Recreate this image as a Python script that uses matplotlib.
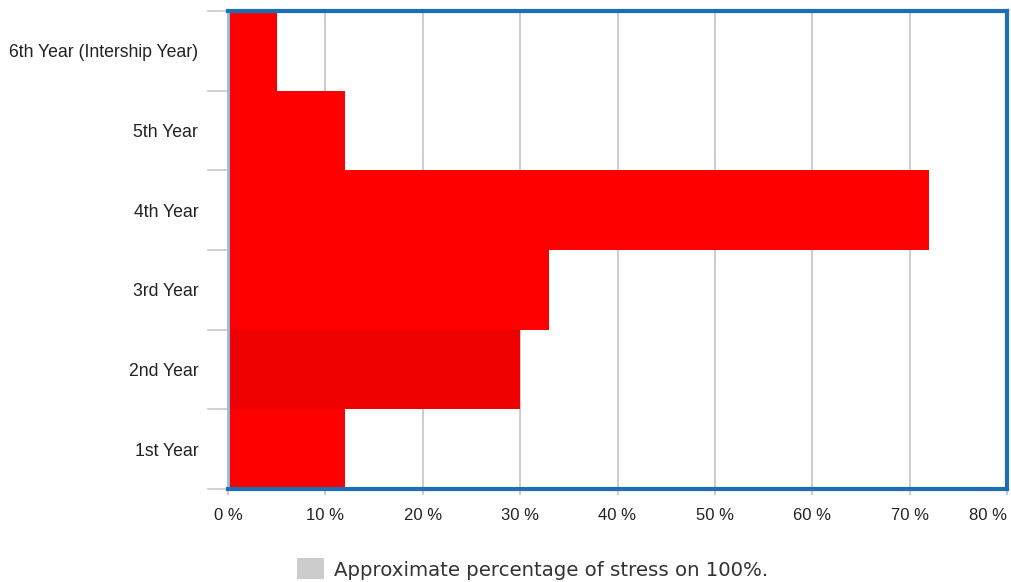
import matplotlib
matplotlib.use("Agg")
from matplotlib import pyplot as plt
from matplotlib.patches import Rectangle

years = ["1st Year", "2nd Year", "3rd Year", "4th Year", "5th Year",
         "6th Year (Intership Year)"]
stress = [12, 30, 33, 72, 12, 5]
bar_colors = ["#ff0000", "#ee0000", "#ff0000", "#ff0000", "#ff0000", "#ff0000"]
xticks = [0, 10, 20, 30, 40, 50, 60, 70, 80]
legend_label = "Approximate percentage of stress on 100%."

fig = plt.figure(figsize=(10.11, 5.82), dpi=100)
ax = fig.add_axes([228 / 1011, 1 - 489 / 582, (1007 - 228) / 1011, (489 - 11) / 582])

pos = list(range(len(years)))
ax.barh(pos, stress, height=1.0, color=bar_colors, edgecolor="none", zorder=2)

ax.set_xlim(0, 80)
ax.set_ylim(-0.5, len(years) - 0.5)

# vertical grid lines, ticks continue a little below the axis
ax.set_xticks(xticks)
ax.set_xticklabels([f"{t} %" for t in xticks], fontsize=12, family="Liberation Sans",
                   color="#222222")
ax.get_xticklabels()[-1].set_ha("right")
ax.get_xticklabels()[-1].set_x(80.4)
ax.grid(axis="x", color="#c4c4c4", linewidth=1.2, zorder=0)
ax.tick_params(axis="x", length=4, color="#c4c4c4", width=1.2, pad=10)

# category labels sit between the boundary ticks
ax.set_yticks(pos)
ax.set_yticklabels(years, fontsize=12.7, family="Liberation Sans", color="#222222")
ax.tick_params(axis="y", length=0, pad=21.5)
for b in [i - 0.5 for i in range(len(years) + 1)]:
    ax.plot([-20.5 / 97.4 * 10, 0], [b, b], color="#c8c8c8", linewidth=1.2,
            clip_on=False, zorder=1)

for side in ["top", "right", "bottom"]:
    ax.spines[side].set_color("#1d6eb4")
    ax.spines[side].set_linewidth(3)
ax.spines["left"].set_color("#8fc0e8")
ax.spines["left"].set_linewidth(2)

# legend swatch and text below the chart
fig.patches.append(Rectangle((297 / 1011, 1 - 579 / 582), 27 / 1011, 21 / 582,
                             transform=fig.transFigure, facecolor="#cccccc",
                             edgecolor="none"))
fig.text(334 / 1011, 1 - 570 / 582, legend_label, fontsize=14.2,
         family="DejaVu Sans", color="#333333", va="center", ha="left")

fig.savefig("out.png", dpi=100)
